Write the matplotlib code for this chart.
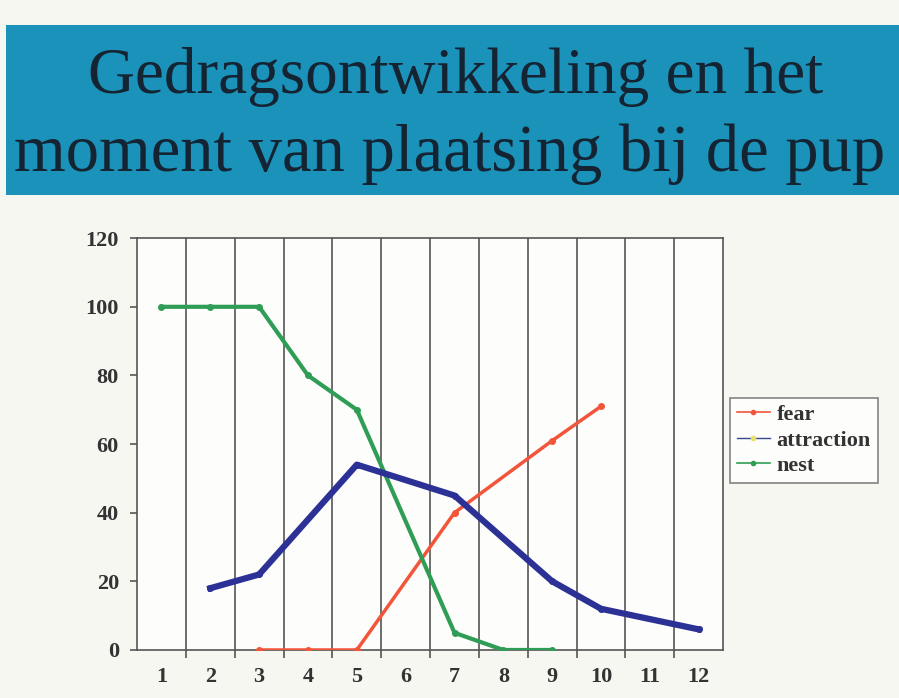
import numpy as np
from matplotlib import pyplot as plt
from matplotlib.lines import Line2D
from matplotlib.patches import Rectangle

# week numbers and the three behaviour series (percent)
weeks = list(range(1, 13))

fear_x = [3, 4, 5, 7, 9, 10]
fear_y = [0, 0, 0, 40, 61, 71]

attr_x = [2, 3, 5, 7, 9, 10, 12]
attr_y = [18, 22, 54, 45, 20, 12, 6]

nest_x = [1, 2, 3, 4, 5, 7, 8, 9]
nest_y = [100, 100, 100, 80, 70, 5, 0, 0]

yticks = [0, 20, 40, 60, 80, 100, 120]
title_1 = "Gedragsontwikkeling en het"
title_2 = "moment van plaatsing bij de pup"

serif = ['Liberation Serif', 'DejaVu Serif']

fig = plt.figure(figsize=(8.99, 6.98), dpi=100)
fig.patch.set_facecolor('#f7f7f2')

# title banner
fig.patches.append(Rectangle((0.007, 0.721), 0.993, 0.243, transform=fig.transFigure,
                             facecolor='#1b92ba', edgecolor='none', zorder=0))
fig.text(0.507, 1 - 93 / 698, title_1, ha='center', va='baseline', fontsize=47,
         family=serif, color='#142432')
fig.text(0.500, 1 - 171 / 698, title_2, ha='center', va='baseline', fontsize=48,
         family=serif, color='#142432')

ax = fig.add_axes([0.1524, 0.0688, 0.652, 0.590])
ax.set_facecolor('#fdfdfb')

ax.plot(fear_x, fear_y, color='#f2553a', lw=2.5, marker='o', ms=4, zorder=3)
ax.plot(nest_x, nest_y, color='#2f9d55', lw=3, marker='o', ms=4, zorder=3)
ax.plot(attr_x, attr_y, color='#2c3196', lw=4.5, marker='o', ms=4, zorder=4)

ax.set_xlim(0.5, 12.5)
ax.set_ylim(0, 120)
ax.set_xticks(weeks)
ax.set_xticks(np.arange(1.5, 12.5, 1), minor=True)
ax.set_yticks(yticks)
ax.grid(True, which='minor', axis='x', color='#555555', lw=1.2)
ax.tick_params(axis='x', which='major', length=0, pad=12)
ax.tick_params(axis='x', which='minor', length=6, width=1.2, color='#555555')
ax.tick_params(axis='y', length=5, width=1.2, color='#555555', pad=8)
for lab in ax.get_xticklabels() + ax.get_yticklabels():
    lab.set_family(serif)
    lab.set_fontsize(16)
    lab.set_fontweight('bold')
    lab.set_color('#333333')
for sp in ax.spines.values():
    sp.set_color('#555555')
    sp.set_linewidth(1.2)

handles = [
    Line2D([], [], color='#f2553a', lw=1.2, marker='o', ms=3),
    Line2D([], [], color='#3a4a8a', lw=1.0, marker='o', ms=3, mfc='#e8e060', mec='#e8e060'),
    Line2D([], [], color='#2f9d55', lw=1.2, marker='o', ms=3),
]
leg = fig.legend(handles, ['fear', 'attraction', 'nest'], loc='upper left',
                 bbox_to_anchor=(0.812, 0.430), prop={'family': serif, 'size': 16, 'weight': 'bold'},
                 frameon=True, fancybox=False, handlelength=1.5, handletextpad=0.3,
                 borderpad=0.3, labelspacing=0.22, borderaxespad=0)
leg.get_frame().set_edgecolor('#666666')
leg.get_frame().set_linewidth(1.2)
for t in leg.get_texts():
    t.set_color('#333333')

fig.savefig('out.png', dpi=100, facecolor=fig.get_facecolor())
